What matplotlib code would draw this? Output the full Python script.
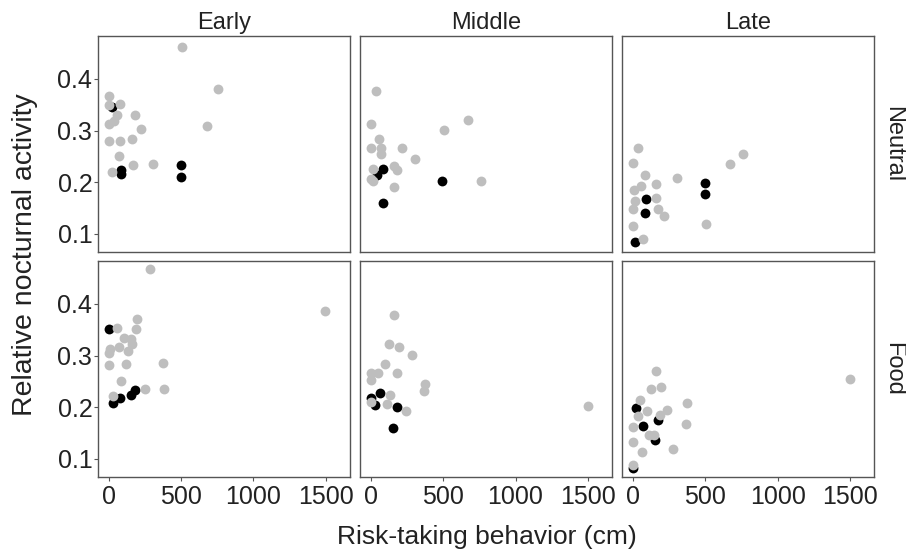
import matplotlib.pyplot as plt
import numpy as np

plt.rcParams['font.family'] = ['Liberation Sans', 'DejaVu Sans']

times = ['Early', 'Middle', 'Late']
treatments = ['Neutral', 'Food']

# (risk-taking cm, relative nocturnal activity)
early_neutral_grey = [(510, 0.461), (757, 0.381), (0, 0.366), (0, 0.350), (78, 0.352), (60, 0.331),
                      (182, 0.330), (37, 0.319), (2, 0.313), (222, 0.303), (677, 0.308), (0, 0.279),
                      (78, 0.279), (159, 0.283), (71, 0.251), (168, 0.233), (309, 0.235), (21, 0.220)]
early_neutral_black = [(26, 0.346), (88, 0.223), (88, 0.215), (499, 0.233), (499, 0.210)]

middle_neutral_grey = [(35, 0.376), (0, 0.313), (670, 0.321), (508, 0.301), (58, 0.284), (0, 0.266),
                       (74, 0.266), (217, 0.266), (74, 0.254), (303, 0.244), (16, 0.225), (162, 0.231),
                       (178, 0.224), (0, 0.206), (16, 0.203), (162, 0.191), (760, 0.202)]
middle_neutral_black = [(83, 0.226), (46, 0.214), (490, 0.203), (83, 0.160)]

late_neutral_grey = [(32, 0.266), (0, 0.238), (757, 0.255), (669, 0.235), (81, 0.214), (302, 0.208),
                     (161, 0.196), (53, 0.193), (7, 0.185), (161, 0.169), (11, 0.164), (0, 0.148),
                     (175, 0.148), (213, 0.134), (0, 0.115), (508, 0.120), (69, 0.091)]
late_neutral_black = [(92, 0.167), (81, 0.140), (501, 0.199), (501, 0.177), (11, 0.085)]

early_food_grey = [(286, 0.467), (1498, 0.386), (199, 0.371), (55, 0.354), (187, 0.352), (106, 0.335),
                   (152, 0.332), (164, 0.322), (71, 0.317), (7, 0.312), (136, 0.309), (2, 0.305),
                   (0, 0.281), (118, 0.283), (376, 0.285), (88, 0.251), (249, 0.235), (383, 0.235),
                   (30, 0.222)]
early_food_black = [(0, 0.351), (30, 0.209), (78, 0.217), (157, 0.224), (182, 0.234)]

middle_food_grey = [(162, 0.379), (127, 0.322), (192, 0.317), (282, 0.302), (100, 0.284), (0, 0.266),
                    (51, 0.266), (183, 0.266), (0, 0.252), (374, 0.245), (367, 0.231), (132, 0.224),
                    (0, 0.211), (109, 0.206), (242, 0.193), (1498, 0.202)]
middle_food_black = [(67, 0.227), (0, 0.217), (28, 0.204), (178, 0.201), (155, 0.159)]

late_food_grey = [(159, 0.270), (1496, 0.255), (125, 0.235), (192, 0.240), (46, 0.214), (372, 0.208),
                  (99, 0.193), (238, 0.195), (35, 0.184), (185, 0.185), (0, 0.161), (365, 0.168),
                  (110, 0.147), (145, 0.146), (0, 0.133), (64, 0.114), (279, 0.120), (0, 0.088)]
late_food_black = [(23, 0.198), (69, 0.164), (175, 0.175), (150, 0.137), (0, 0.082)]

panels = [[(early_neutral_grey, early_neutral_black), (middle_neutral_grey, middle_neutral_black),
           (late_neutral_grey, late_neutral_black)],
          [(early_food_grey, early_food_black), (middle_food_grey, middle_food_black),
           (late_food_grey, late_food_black)]]

fig, axes = plt.subplots(2, 3, figsize=(9.06, 5.54), dpi=100, sharex=True, sharey=True)
fig.subplots_adjust(left=0.108, right=0.965, top=0.935, bottom=0.139, wspace=0.04, hspace=0.042)

for r in range(2):
    for c in range(3):
        ax = axes[r, c]
        grey, black = panels[r][c]
        bx, by = zip(*black)
        gx, gy = zip(*grey)
        ax.scatter(bx, by, s=50, color='black', linewidths=0, zorder=2)
        ax.scatter(gx, gy, s=50, color='#bebebe', linewidths=0, zorder=3)
        for sp in ax.spines.values():
            sp.set_color('#555555')
            sp.set_linewidth(1.0)
        ax.tick_params(length=3, width=0.8, color='#555555', labelsize=18, labelcolor='#222222')
        ax.tick_params(axis='x', pad=3)
        ax.tick_params(axis='y', pad=1)
        if c > 0:
            ax.tick_params(left=False)
        if r == 0:
            ax.tick_params(bottom=False)
        if r == 0:
            ax.set_title(times[c], fontsize=17, pad=5, color='#222222')
        if c == 2:
            ax.text(1.03, 0.5, treatments[r], transform=ax.transAxes, rotation=-90,
                    ha='left', va='center', fontsize=17, color='#222222')

axes[0, 0].set_xlim(-74, 1667)
axes[0, 0].set_ylim(0.065, 0.483)
axes[0, 0].set_xticks([0, 500, 1000, 1500])
axes[0, 0].set_yticks([0.1, 0.2, 0.3, 0.4])
axes[0, 0].set_yticklabels(['0.1', '0.2', '0.3', '0.4'])

fig.text(0.537, 0.031, 'Risk-taking behavior (cm)', ha='center', va='center', fontsize=19, color='#222222')
fig.text(0.028, 0.54, 'Relative nocturnal activity', ha='center', va='center', rotation=90,
         fontsize=20.5, color='#222222')

plt.savefig('out.png')
